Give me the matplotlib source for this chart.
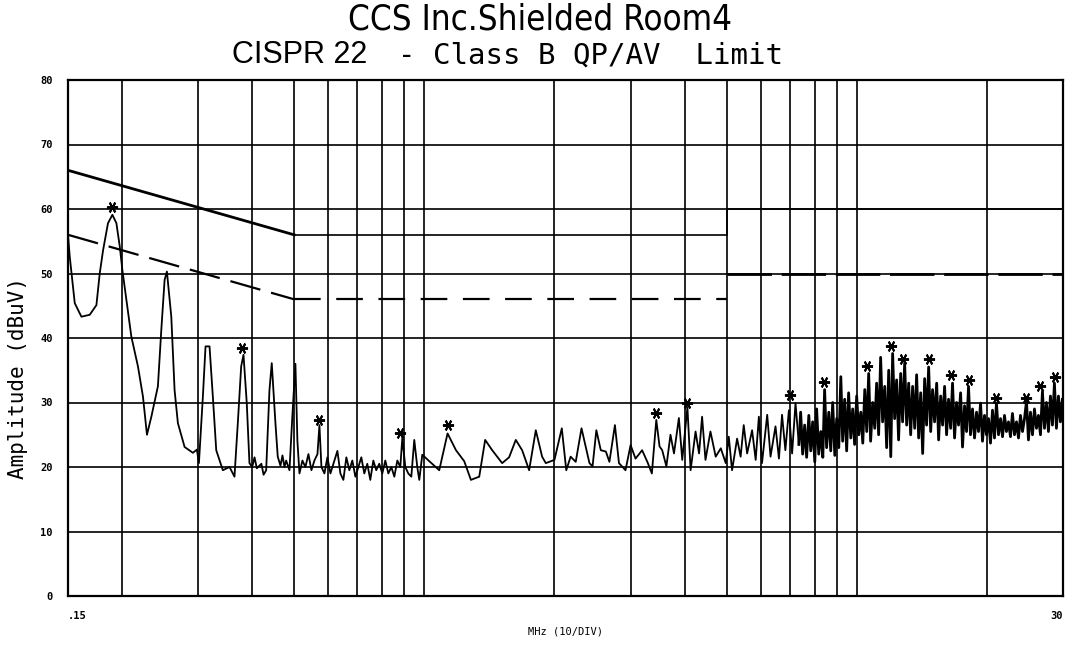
import numpy as np
import matplotlib.pyplot as plt

lf_freq = [0.150, 0.1514, 0.1555, 0.1611, 0.1684, 0.1745, 0.1776, 0.1808, 0.1856, 0.1900,
           0.1941, 0.1976, 0.2004, 0.2047, 0.2102, 0.2177, 0.2236, 0.2284, 0.2338, 0.2421,
           0.2465, 0.2509, 0.2540, 0.2600, 0.2646, 0.2693, 0.2791, 0.2917, 0.2980, 0.3012,
           0.3076, 0.3120, 0.3187, 0.3244, 0.3303, 0.3421, 0.3545, 0.3640, 0.3705, 0.3772,
           0.3819, 0.3886, 0.3942, 0.400, 0.405, 0.410, 0.420, 0.425, 0.4309, 0.4385,
           0.4439, 0.4527, 0.4583, 0.465, 0.470, 0.475, 0.4793, 0.4878]
lf_level = [56.0, 52.6, 45.4, 43.3, 43.6, 45.1, 50.0, 53.6, 57.8, 59.1,
            57.8, 54.2, 50.5, 45.9, 40.2, 35.6, 30.9, 25.0, 27.8, 32.5,
            41.2, 49.0, 50.3, 43.3, 31.9, 26.8, 23.1, 22.2, 22.7, 20.6,
            30.9, 38.7, 38.7, 30.9, 22.6, 19.5, 20.0, 18.5, 26.8, 35.6,
            37.4, 29.9, 20.6, 20.0, 21.5, 19.8, 20.5, 18.8, 19.5, 31.9,
            36.1, 26.8, 21.6, 20.2, 21.8, 20.0, 21.0, 19.5]

mf_freq = [0.4955, 0.5035, 0.5089, 0.5145, 0.5226, 0.5310, 0.5396, 0.5483, 0.5571, 0.5662,
           0.5722, 0.5783, 0.5876, 0.5970, 0.6067, 0.6164, 0.6297, 0.6397, 0.6500, 0.6604,
           0.6710, 0.6818, 0.6929, 0.7038, 0.7152, 0.7266, 0.7383, 0.7502, 0.7624, 0.7744,
           0.7869, 0.7998, 0.8126, 0.8259, 0.8391, 0.8526, 0.8663, 0.8802, 0.8897, 0.9040,
           0.9184, 0.9333, 0.9482, 0.9634, 0.9738, 0.9895,
           1.027, 1.083, 1.132, 1.184, 1.237, 1.282, 1.340, 1.383, 1.436, 1.514,
           1.571, 1.628, 1.684, 1.748, 1.811, 1.873]
mf_level = [28.0, 36.0, 24.0, 19.0, 21.0, 20.0, 22.0, 19.5, 21.0, 22.0,
            26.5, 20.0, 19.0, 21.5, 19.0, 20.5, 22.5, 19.0, 18.0, 21.5,
            19.5, 21.0, 18.5, 20.0, 21.5, 19.0, 20.5, 18.0, 21.0, 19.5,
            20.5, 19.0, 21.0, 19.0, 20.0, 18.5, 21.0, 20.0, 24.5, 20.0,
            19.0, 18.5, 24.2, 20.0, 18.0, 21.9,
            20.9, 19.5, 25.2, 22.6, 20.9, 18.0, 18.5, 24.2, 22.6, 20.6,
            21.5, 24.2, 22.6, 19.5, 25.7, 21.6]

hf_freq = [1.91, 2.00, 2.08, 2.13, 2.18, 2.24, 2.31, 2.41, 2.45, 2.50,
           2.56, 2.63, 2.68, 2.76, 2.82, 2.92, 3.00, 3.08, 3.19, 3.28,
           3.36, 3.44, 3.50, 3.55, 3.63, 3.71, 3.78, 3.88, 3.95, 4.06,
           4.13, 4.24, 4.32, 4.39, 4.47, 4.59, 4.72, 4.85, 4.98, 5.06,
           5.15, 5.29, 5.39, 5.48, 5.58, 5.73, 5.84, 5.94, 6.04, 6.21,
           6.32, 6.49, 6.61, 6.72, 6.84, 6.97, 7.09, 7.22]
hf_level = [20.6, 21.1, 26.0, 19.5, 21.6, 20.8, 26.0, 20.6, 20.1, 25.7,
            22.6, 22.4, 20.8, 26.5, 20.6, 19.5, 23.4, 21.3, 22.6, 20.8,
            19.0, 27.3, 23.2, 22.6, 20.1, 25.0, 22.1, 27.6, 21.1, 29.3,
            19.5, 25.5, 22.1, 27.8, 21.1, 25.5, 21.6, 22.9, 20.6, 24.7,
            19.5, 24.4, 21.6, 26.5, 22.1, 25.7, 21.1, 27.8, 20.6, 28.1,
            21.6, 26.3, 21.3, 28.1, 22.6, 28.8, 22.1, 29.9]

vhf_freq = [7.35, 7.42, 7.50, 7.58, 7.66, 7.75, 7.83, 7.91, 8.00, 8.08,
            8.17, 8.26, 8.35, 8.43, 8.52, 8.62, 8.71, 8.80, 8.90, 8.99,
            9.09, 9.19, 9.28, 9.38, 9.48, 9.58, 9.69, 9.79, 9.89, 10.00,
            10.11, 10.22, 10.33, 10.44, 10.55, 10.66, 10.77, 10.89, 11.01, 11.12,
            11.24, 11.36, 11.48, 11.61, 11.73, 11.86, 11.99, 12.11, 12.24, 12.37,
            12.50, 12.64, 12.77, 12.91, 13.05, 13.19, 13.33, 13.47, 13.62, 13.76,
            13.91, 14.06, 14.21, 14.36, 14.51, 14.67, 14.83, 14.98, 15.14, 15.31,
            15.47, 15.64, 15.80, 15.97, 16.14, 16.31, 16.49, 16.66, 16.84, 17.02,
            17.20, 17.39, 17.57, 17.76, 17.95, 18.14, 18.33, 18.53, 18.73, 18.93,
            19.13, 19.34, 19.54, 19.75, 19.96, 20.18, 20.39, 20.61, 20.83, 21.05,
            21.28, 21.51, 21.74, 21.97, 22.20, 22.44, 22.68, 22.92, 23.17, 23.42,
            23.67, 23.92, 24.18, 24.44, 24.70, 24.96, 25.23, 25.50, 25.77, 26.05,
            26.32, 26.61, 26.89, 27.18, 27.47, 27.76, 28.06, 28.36, 28.66, 28.97,
            29.28, 29.59, 29.91]
vhf_level = [23.5, 28.5, 22.0, 26.5, 21.5, 28.0, 22.5, 27.0, 20.8, 29.0,
             22.0, 25.5, 21.5, 32.0, 23.0, 28.5, 22.5, 30.0, 21.8, 27.5,
             23.0, 34.0, 24.0, 30.5, 22.5, 31.5, 24.5, 29.0, 23.5, 31.0,
             25.0, 28.5, 23.7, 32.0, 25.5, 34.5, 24.0, 30.0, 26.0, 33.0,
             25.0, 37.0, 27.0, 32.5, 23.0, 35.0, 21.6, 37.6, 27.5, 33.5,
             24.2, 34.5, 27.0, 36.1, 26.5, 33.0, 25.0, 32.5, 26.0, 34.3,
             24.5, 31.5, 22.1, 33.7, 26.5, 35.5, 25.5, 32.0, 27.0, 33.0,
             24.2, 31.0, 26.5, 32.5, 25.0, 30.5, 26.0, 33.0, 24.5, 30.0,
             26.5, 31.5, 23.1, 29.5, 25.5, 32.5, 25.0, 29.0, 24.5, 28.5,
             25.5, 29.9, 24.0, 28.0, 25.0, 27.5, 23.7, 28.8, 24.5, 29.9,
             25.0, 27.5, 24.7, 28.0, 25.5, 27.0, 24.7, 28.3, 25.0, 27.0,
             24.5, 28.0, 25.5, 27.5, 30.2, 24.2, 28.5, 25.0, 29.0, 26.0,
             28.0, 25.0, 31.7, 26.0, 30.0, 25.5, 31.0, 26.5, 33.0, 26.0,
             31.0, 27.0, 30.5]

# peak markers
mk_freq = [0.190, 0.378, 0.572, 0.880, 1.132, 3.44, 4.06, 7.0, 8.40, 10.55,
           12.0, 12.8, 14.67, 16.5, 18.2, 21.05, 24.7, 26.6, 28.8]
mk_level = [60.3, 38.4, 27.3, 25.3, 26.5, 28.4, 30.0, 31.2, 33.2, 35.6,
            38.7, 36.7, 36.7, 34.3, 33.5, 30.7, 30.7, 32.5, 34.0]

# CISPR 22 class B limits
qp_freq = [0.15, 0.5, 0.5, 5.0, 5.0, 30.0]
qp_level = [66, 56, 56, 56, 60, 60]
av_freq = [0.15, 0.5, 0.5, 5.0, 5.0, 30.0]
av_level = [56, 46, 46, 46, 50, 50]

y_ticks = [0, 10, 20, 30, 40, 50, 60, 70, 80]
x_grid = [0.2, 0.3, 0.4, 0.5, 0.6, 0.7, 0.8, 0.9, 1, 2, 3, 4, 5, 6, 7, 8, 9, 10, 20]

fig = plt.figure(figsize=(10.71, 6.47), dpi=100)
ax = fig.add_axes([68 / 1071, 51 / 647, 995 / 1071, 516 / 647])
ax.set_xscale('log')
ax.set_xlim(0.15, 30)
ax.set_ylim(0, 80)

ax.set_yticks(y_ticks)
ax.set_yticklabels([str(v) for v in y_ticks], fontfamily='DejaVu Sans Mono',
                   fontweight='bold', fontsize=7.5)
ax.set_xticks([0.15, 30])
ax.set_xticklabels(['.15', '30'], fontfamily='DejaVu Sans Mono', fontweight='bold', fontsize=7.5)
ax.set_xticks(x_grid, minor=True)
ax.set_xticklabels([], minor=True)
lbl = ax.get_xticklabels()
lbl[0].set_ha('left')
lbl[1].set_ha('right')
ax.tick_params(which='both', length=0)
ax.tick_params(axis='y', pad=11)
ax.tick_params(axis='x', pad=11)
ax.grid(True, axis='y', which='major', color='black', lw=1.2)
ax.grid(True, axis='x', which='minor', color='black', lw=1.2)
for s in ax.spines.values():
    s.set_linewidth(1.6)

# limits
ax.plot(qp_freq[:2], qp_level[:2], color='black', lw=2.0)
ax.plot(qp_freq[1:], qp_level[1:], color='black', lw=1.2)
ax.plot(av_freq[:2], av_level[:2], color='black', lw=1.6, dashes=(14, 5))
ax.plot(av_freq[2:4], av_level[2:4], color='black', lw=1.6, dashes=(12, 7))
ax.plot(av_freq[4:], av_level[4:], color='black', lw=2.0, dashes=(16, 3.5))

# trace and markers
ax.plot(lf_freq + mf_freq + hf_freq + vhf_freq[:1], lf_level + mf_level + hf_level + vhf_level[:1],
        color='black', lw=1.3)
ax.plot(vhf_freq, vhf_level, color='black', lw=2.0)
ax.plot(mk_freq, mk_level, ls='none', marker=(6, 2, 90), ms=8, mew=1.4, color='black')

ax.set_xlabel('MHz (10/DIV)', fontfamily='DejaVu Sans Mono', fontsize=7.5, labelpad=4)
fig.text(18 / 1071, 1 - 378 / 647, 'Amplitude (dBuV)', rotation=90, ha='center', va='center',
         fontfamily='DejaVu Sans Mono', fontsize=15)

fig.text(540 / 1071, 1 - 29 / 647, 'CCS Inc.Shielded Room4', ha='center', va='baseline',
         fontfamily='DejaVu Sans', fontstretch='condensed', fontsize=25)
fig.text(232 / 1071, 1 - 55 / 647, 'CISPR 22', ha='left', va='center',
         family=['Liberation Sans', 'DejaVu Sans'], fontsize=22)
fig.text(398 / 1071, 1 - 56 / 647, '- Class B QP/AV  Limit', ha='left', va='center',
         fontfamily='DejaVu Sans Mono', fontsize=21)

fig.savefig('out.png', dpi=100)
plt.close(fig)
